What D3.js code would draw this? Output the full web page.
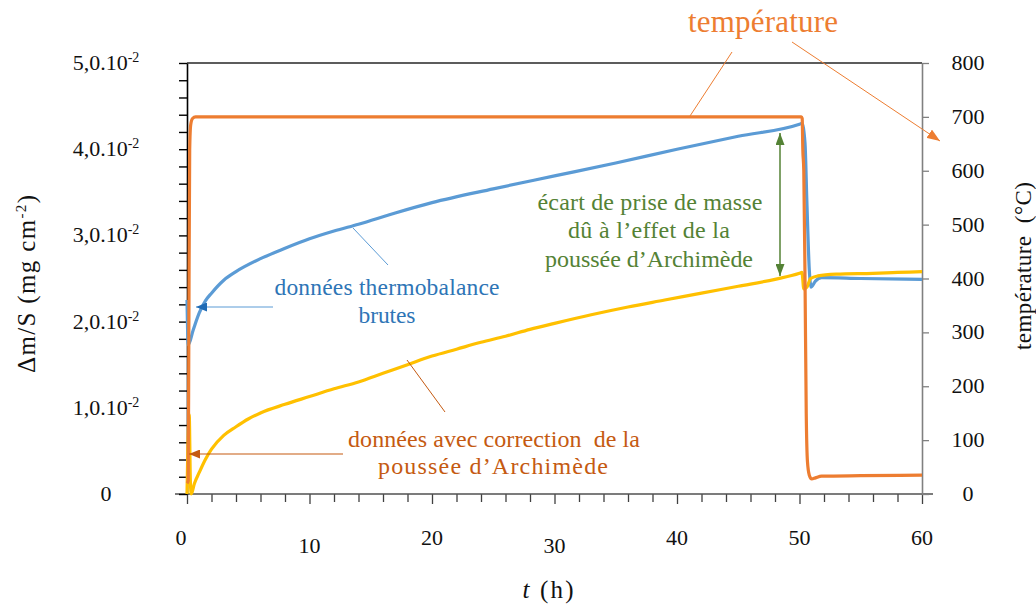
<!DOCTYPE html>
<html>
<head>
<meta charset="utf-8">
<script src="https://cdn.jsdelivr.net/npm/d3@7"></script>
<style>
  html, body { margin: 0; padding: 0; background: #ffffff; }
  svg { display: block; }
  svg text { font-family: "Liberation Serif", "DejaVu Serif", "Times New Roman", serif !important; }
</style>
</head>
<body>
<svg id="chart" width="1036" height="604" font-family="Liberation Serif, DejaVu Serif, serif"></svg>
<script>
// ---------- DATA ----------
// Raw thermobalance data (blue): time (h) and mass gain (mg cm^-2)
const rawTime = [0, 0.1, 0.5, 1.0, 1.5, 2, 3, 4, 6, 8, 10, 12, 14, 17, 20, 25, 30, 35, 40, 45, 50, 50.2,
                 50.45, 50.6, 50.8, 50.95, 51.3, 51.8, 55, 60];
const rawMass = [0.0225, 0.0173, 0.0190, 0.0210, 0.0224, 0.0233, 0.0248, 0.0258, 0.0273, 0.0285, 0.0296, 0.0305,
                 0.0313, 0.0326, 0.0338, 0.0354, 0.0369, 0.0384, 0.0400, 0.0415, 0.0429, 0.0430,
                 0.0407, 0.0340, 0.0260, 0.0240, 0.0247, 0.0251, 0.0250, 0.0249];

// Data corrected for Archimedes' buoyancy (yellow)
const corrTime = [0, 0.18, 0.28, 0.35, 0.6, 1, 1.5, 2, 3, 4, 5, 6, 8, 10, 12, 14, 16, 18, 20, 22, 24, 26, 28,
                  30, 33, 36, 39, 42, 45, 48, 50, 50.2, 50.35, 50.6, 50.9, 51.5, 53, 56, 58, 60];
const corrMass = [0.0000, 0.0092, 0.0012, 0.0000, 0.0012, 0.0025, 0.0040, 0.0052, 0.0068, 0.0078, 0.0087, 0.0094,
                  0.0104, 0.0113, 0.0122, 0.0130, 0.0140, 0.0150, 0.0160, 0.0168, 0.0176, 0.0183, 0.0191,
                  0.0198, 0.0208, 0.0217, 0.0225, 0.0233, 0.0241, 0.0249, 0.0256, 0.0257, 0.0238, 0.0240,
                  0.0250, 0.0253, 0.0255, 0.0256, 0.0257, 0.0258];

// Temperature (orange): time (h) and temperature (°C)
const tempTime = [0, 0.1, 0.15, 0.22, 0.3, 0.45, 0.7, 5, 10, 20, 30, 40, 50.15, 50.22, 50.27, 50.35,
                  50.45, 50.55, 50.65, 50.8, 51.0, 51.3, 51.8, 55, 60];
const tempValues = [20, 25, 300, 640, 685, 697, 700, 700, 700, 700, 700, 700, 700, 697, 640, 600,
                    400, 150, 60, 35, 28, 30, 33, 34, 35];

// Tick labels
const xTickLabels = [0, 10, 20, 30, 40, 50, 60];
const xMinorTicks = d3.range(0, 61, 2);
const leftTickLabels = [0, 0.01, 0.02, 0.03, 0.04, 0.05];
const leftMinorTicks = d3.range(0, 0.0501, 0.002);
const rightTickLabels = [0, 100, 200, 300, 400, 500, 600, 700, 800];

// ---------- COLOURS ----------
const cBlue = "#5B9BD5", cBlueText = "#2E75B6";
const cYellow = "#FFC000";
const cOrange = "#ED7D31", cOrangeText = "#C55A11";
const cGreen = "#548235";
const FONT = "Liberation Serif, DejaVu Serif, serif";

// ---------- SCALES ----------
const svg = d3.select("#chart");
const pL = 187, pR = 922, pT = 63, pB = 494;
const x = d3.scaleLinear().domain([0, 60]).range([pL, pR]);
const yL = d3.scaleLinear().domain([0, 0.05]).range([pB, pT]);
const yR = d3.scaleLinear().domain([0, 800]).range([pB, pT]);

// markers
const defs = svg.append("defs");
function marker(id, color, w, h) {
  defs.append("marker").attr("id", id)
    .attr("viewBox", `0 0 ${w} ${h}`).attr("refX", w).attr("refY", h / 2)
    .attr("markerWidth", w).attr("markerHeight", h).attr("markerUnits", "userSpaceOnUse")
    .attr("orient", "auto-start-reverse")
    .append("path").attr("d", `M0,0 L${w},${h / 2} L0,${h} Z`).attr("fill", color);
}
marker("arrOrange", cOrange, 13, 10);
marker("arrBlue", "#1F6BB5", 11, 9);
marker("arrOrangeDark", "#C55A11", 11, 9);
marker("arrGreen", cGreen, 12, 9);

function fit(sel, len) {
  return sel.attr("textLength", len).attr("lengthAdjust", "spacing");
}

// ---------- AXES ----------
svg.append("line").attr("x1", pL).attr("x2", pR).attr("y1", pT).attr("y2", pT)
  .attr("stroke", "#262626").attr("stroke-width", 1.5);

// bottom axis
const gx = svg.append("g").attr("transform", `translate(0,${pB})`)
  .call(d3.axisBottom(x).tickValues(xMinorTicks).tickSize(8).tickSizeOuter(0).tickFormat(""));
gx.select(".domain").remove();
gx.selectAll(".tick line").attr("stroke", "#404040").attr("stroke-width", 1.3)
  .attr("y2", d => d % 10 === 0 ? 10 : 8);
svg.append("line").attr("x1", pL - 12).attr("x2", pR + 11).attr("y1", pB).attr("y2", pB)
  .attr("stroke", "#505050").attr("stroke-width", 1.5);
svg.append("g").attr("font-family", FONT).selectAll("text").data(xTickLabels).join("text")
  .attr("x", d => x(d) + (d === 0 ? -6 : 0))
  .attr("y", d => (d === 10 || d === 30) ? 553 : 545)
  .attr("text-anchor", "middle").attr("font-size", 22).attr("fill", "#111")
  .text(d => d);

// left axis
const gl = svg.append("g").attr("transform", `translate(${pL},0)`)
  .call(d3.axisLeft(yL).tickValues(leftMinorTicks).tickSize(8).tickSizeOuter(0).tickFormat(""));
gl.select(".domain").attr("stroke", "#000").attr("stroke-width", 1.6);
gl.selectAll(".tick line").attr("stroke", "#000").attr("stroke-width", 1.4);
const ll = svg.append("g").attr("font-family", FONT).selectAll("text").data(leftTickLabels).join("text")
  .attr("x", 106).attr("y", d => yL(d) + 7)
  .attr("text-anchor", "middle").attr("font-size", 22).attr("fill", "#111");
ll.each(function (d) {
  const t = d3.select(this);
  if (d === 0) { t.text("0"); return; }
  t.append("tspan").text((d * 100).toFixed(1).replace(".", ",") + ".10");
  t.append("tspan").attr("font-size", 14).attr("dy", -8).text("-2");
});

// right axis
const gr = svg.append("g").attr("transform", `translate(${pR},0)`)
  .call(d3.axisRight(yR).tickValues(rightTickLabels).tickSize(7).tickSizeOuter(0).tickFormat(""));
gr.select(".domain").attr("stroke", "#808080").attr("stroke-width", 1.6);
gr.selectAll(".tick line").attr("stroke", "#808080").attr("stroke-width", 1.3);
svg.append("g").attr("font-family", FONT).selectAll("text").data(rightTickLabels).join("text")
  .attr("x", 968).attr("y", d => yR(d) + 7)
  .attr("text-anchor", "middle").attr("font-size", 22).attr("fill", "#111")
  .text(d => d);

// axis titles
const lt = svg.append("text").attr("transform", "translate(35,284) rotate(-90)")
  .attr("text-anchor", "middle").attr("font-size", 25).attr("fill", "#111");
lt.append("tspan").text("Δm/S (mg cm");
lt.append("tspan").attr("font-size", 15).attr("dy", -9).text("-2");
lt.append("tspan").attr("dy", 9).text(")");
fit(lt, 178);

fit(svg.append("text").attr("transform", "translate(1031,266) rotate(-90)")
  .attr("text-anchor", "middle").attr("font-size", 23).attr("fill", "#111")
  .attr("xml:space", "preserve")
  .text("température  (°C)"), 168);

const xt = svg.append("text").attr("x", 548).attr("y", 598)
  .attr("text-anchor", "middle").attr("font-size", 25).attr("fill", "#111");
xt.append("tspan").attr("font-style", "italic").text("t");
xt.append("tspan").text(" (h)");
fit(xt, 51);

// ---------- LINES ----------
const lineRaw = d3.line().x(d => x(d[0])).y(d => yL(d[1])).curve(d3.curveMonotoneX);
const lineTemp = d3.line().x(d => x(d[0])).y(d => yR(d[1])).curve(d3.curveMonotoneX);

svg.append("path").datum(d3.zip(rawTime, rawMass)).attr("d", lineRaw)
  .attr("fill", "none").attr("stroke", cBlue).attr("stroke-width", 3.2).attr("stroke-linejoin", "round");
svg.append("path").datum(d3.zip(corrTime, corrMass)).attr("d", lineRaw)
  .attr("fill", "none").attr("stroke", cYellow).attr("stroke-width", 3.2).attr("stroke-linejoin", "round");
svg.append("path").datum(d3.zip(tempTime, tempValues)).attr("d", lineTemp)
  .attr("fill", "none").attr("stroke", cOrange).attr("stroke-width", 3.2).attr("stroke-linejoin", "round");

// ---------- ANNOTATIONS ----------
fit(svg.append("text").attr("x", 763).attr("y", 32).attr("text-anchor", "middle")
  .attr("font-size", 31).attr("fill", cOrange).text("température"), 150);
svg.append("line").attr("x1", 732).attr("y1", 52).attr("x2", 690).attr("y2", 116)
  .attr("stroke", cOrange).attr("stroke-width", 1);
svg.append("line").attr("x1", 792).attr("y1", 42).attr("x2", 940).attr("y2", 141)
  .attr("stroke", cOrange).attr("stroke-width", 1).attr("marker-end", "url(#arrOrange)");

const bt = svg.append("g").attr("fill", cBlueText).attr("font-size", 23.5).attr("text-anchor", "middle");
fit(bt.append("text").attr("x", 387).attr("y", 295).text("données thermobalance"), 225);
fit(bt.append("text").attr("x", 387).attr("y", 323).text("brutes"), 57);
svg.append("line").attr("x1", 388).attr("y1", 265).attr("x2", 353).attr("y2", 228)
  .attr("stroke", cBlue).attr("stroke-width", 1);
svg.append("line").attr("x1", 273).attr("y1", 307).attr("x2", 196).attr("y2", 307)
  .attr("stroke", cBlue).attr("stroke-width", 1).attr("marker-end", "url(#arrBlue)");

const ot = svg.append("g").attr("fill", cOrangeText).attr("font-size", 24).attr("text-anchor", "middle");
fit(ot.append("text").attr("x", 494).attr("y", 447).attr("xml:space", "preserve").text("données avec correction  de la"), 292);
fit(ot.append("text").attr("x", 493).attr("y", 474).text("poussée d’Archimède"), 230);
svg.append("line").attr("x1", 407).attr("y1", 360).attr("x2", 445).attr("y2", 412)
  .attr("stroke", cOrangeText).attr("stroke-width", 1);
svg.append("line").attr("x1", 343).attr("y1", 454).attr("x2", 189).attr("y2", 454)
  .attr("stroke", cOrangeText).attr("stroke-width", 1.2).attr("marker-end", "url(#arrOrangeDark)");

const gt = svg.append("g").attr("fill", cGreen).attr("font-size", 24).attr("text-anchor", "middle");
fit(gt.append("text").attr("x", 650).attr("y", 210).text("écart de prise de masse"), 225);
fit(gt.append("text").attr("x", 649).attr("y", 238).text("dû à l’effet de la"), 162);
fit(gt.append("text").attr("x", 649).attr("y", 267).text("poussée d’Archimède"), 208);
svg.append("line").attr("x1", 780).attr("y1", 133).attr("x2", 780).attr("y2", 276)
  .attr("stroke", cGreen).attr("stroke-width", 1.5)
  .attr("marker-start", "url(#arrGreen)").attr("marker-end", "url(#arrGreen)");
</script>
</body>
</html>
